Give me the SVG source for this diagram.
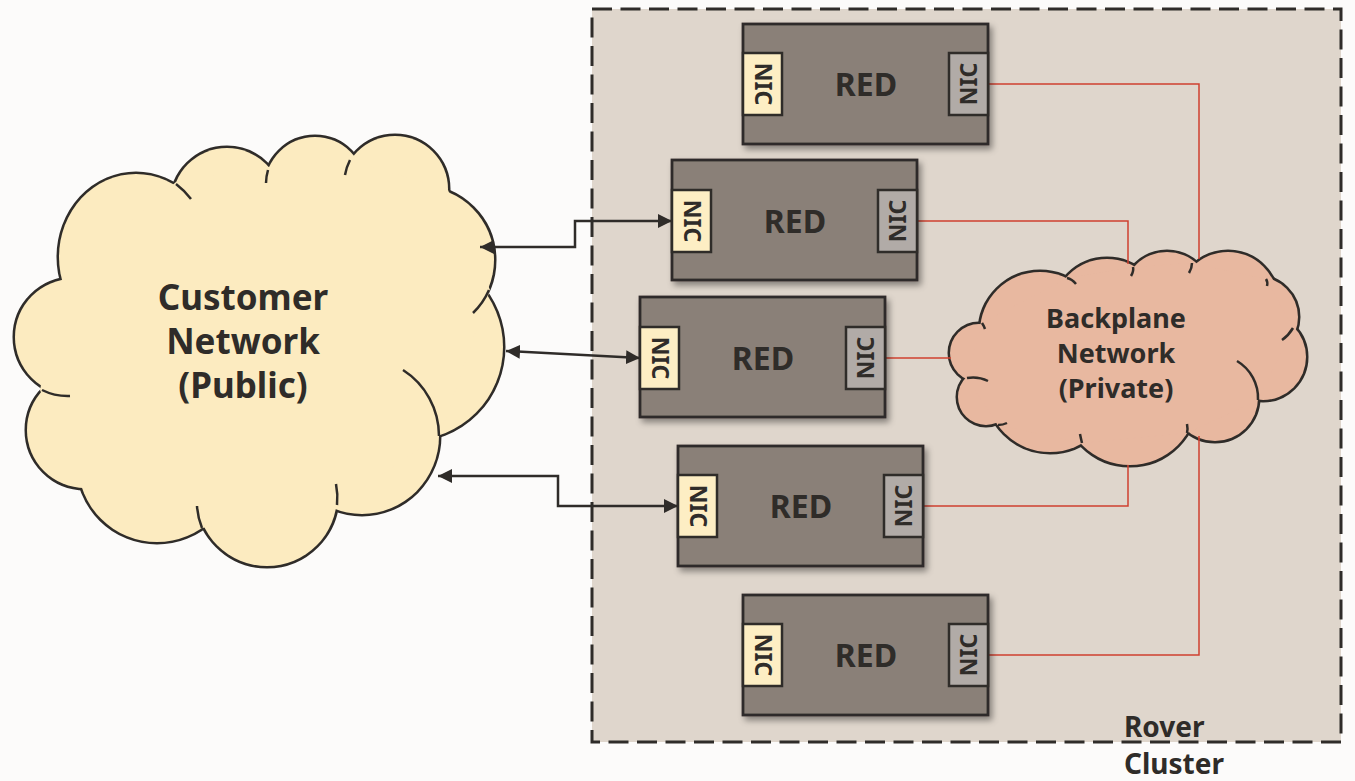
<svg xmlns="http://www.w3.org/2000/svg" xmlns:xlink="http://www.w3.org/1999/xlink" width="1355" height="781" viewBox="0 0 1355 781">
  <style>
    .lbl { font-family: "Noto Sans", "Open Sans", "Liberation Sans", sans-serif; font-weight: bold; fill: #2f2c29; }
    .red { fill: #8a8078; stroke: #2f2c29; stroke-width: 2.8; }
    .nicL { fill: #fdeec4; stroke: #2f2c29; stroke-width: 2.5; }
    .nicR { fill: #b1aba7; stroke: #2f2c29; stroke-width: 2.5; }
    .nic { font-size: 23px; }
    .redtxt { font-size: 32px; }
    .tail { fill: none; stroke: #2f2c29; stroke-width: 2.5; }
    .arrow { fill: none; stroke: #2f2c29; stroke-width: 2.5; }
    .wire { fill: none; stroke: #d0402f; stroke-width: 1.5; }
  </style>
  <defs>
    <filter id="shadow" x="-10%" y="-10%" width="125%" height="130%">
      <feDropShadow dx="3" dy="4" stdDeviation="3" flood-color="#000" flood-opacity="0.4"/>
    </filter>
    <marker id="ah" viewBox="0 0 14 14" refX="14" refY="7" markerWidth="14" markerHeight="14" markerUnits="userSpaceOnUse" orient="auto-start-reverse">
      <path d="M0,0 L14,7 L0,14 z" fill="#2f2c29"/>
    </marker>
    <g id="custShapes">
      <circle cx="73" cy="337" r="58"/>
      <ellipse cx="136" cy="257" rx="77" ry="83"/>
      <circle cx="227" cy="203" r="55"/>
      <circle cx="315" cy="187" r="50"/>
      <circle cx="395" cy="189" r="53"/>
      <circle cx="421" cy="260" r="73"/>
      <circle cx="410" cy="347" r="93"/>
      <ellipse cx="362" cy="436" rx="77" ry="78"/>
      <circle cx="267" cy="496" r="70"/>
      <circle cx="157" cy="463" r="79"/>
      <circle cx="85" cy="430" r="58"/>
    </g>
    <g id="backShapes">
      <circle cx="1040" cy="332" r="60"/>
      <circle cx="1107" cy="313" r="54"/>
      <circle cx="1167" cy="296" r="44"/>
      <circle cx="1228" cy="302" r="50"/>
      <circle cx="1258" cy="317" r="40"/>
      <circle cx="1263" cy="357" r="43"/>
      <circle cx="1215" cy="398" r="43"/>
      <circle cx="1130" cy="398" r="67"/>
      <circle cx="1050" cy="388" r="64"/>
      <circle cx="986" cy="397" r="28"/>
      <circle cx="979" cy="353" r="29"/>
    </g>
  </defs>

  <rect x="0" y="0" width="1355" height="781" fill="#fcfbfa"/>

  <!-- Rover cluster container -->
  <g id="rover-cluster">
    <rect x="592" y="9" width="749" height="733" fill="#dfd6cc" stroke="#2f2c29" stroke-width="3" stroke-dasharray="20 8.5"/>
    <text class="lbl" x="1124" y="737" font-size="28">Rover</text>
    <text class="lbl" x="1124" y="774" font-size="28">Cluster</text>
  </g>

  <!-- Customer network cloud -->
  <g id="customer-network">
    <use xlink:href="#custShapes" href="#custShapes" fill="none" stroke="#2f2c29" stroke-width="5"/>
    <use xlink:href="#custShapes" href="#custShapes" fill="#fcebc0" stroke="none"/>
    <polygon points="62,281 176,182 268,167 350,160 448,190 490,290 440,435 337,505 202,528 82,488 40,390" fill="#fcebc0"/>
    <path class="tail" d="M42,390 A58 58 0 0 0 70,396"/>
    <path class="tail" d="M176,184 A77 83 0 0 1 191,199"/>
    <path class="tail" d="M268,170 A50 50 0 0 0 266,183"/>
    <path class="tail" d="M350,160 A53 53 0 0 0 345,175"/>
    <path class="tail" d="M489,290 A73 73 0 0 1 473,313"/>
    <path class="tail" d="M439,436 A77 78 0 0 0 403,370"/>
    <path class="tail" d="M337,505 A70 70 0 0 0 336,484"/>
    <path class="tail" d="M202,528 A70 70 0 0 1 197,506"/>
    <text class="lbl" x="243" y="310" font-size="35" text-anchor="middle">Customer</text>
    <text class="lbl" x="243" y="354" font-size="35" text-anchor="middle">Network</text>
    <text class="lbl" x="243" y="398" font-size="35" text-anchor="middle">(Public)</text>
  </g>

  <!-- Backplane network cloud -->
  <g id="backplane-network">
    <use xlink:href="#backShapes" href="#backShapes" fill="none" stroke="#2f2c29" stroke-width="5"/>
    <use xlink:href="#backShapes" href="#backShapes" fill="#e8b8a0" stroke="none"/>
    <polygon points="982,323 1067,278 1133,267 1192,263 1266,279 1293,328 1258,400 1187,433 1082,443 998,425 967,378" fill="#e8b8a0"/>
    <path class="tail" d="M1067,278 Q1072,279 1076,284"/>
    <path class="tail" d="M1133,267 Q1134,271 1131,276"/>
    <path class="tail" d="M1192,263 Q1192,268 1189,273"/>
    <path class="tail" d="M1266,279 Q1268,282 1267,286"/>
    <path class="tail" d="M1293,328 A38 38 0 0 1 1282,340"/>
    <path class="tail" d="M1258,400 A43 43 0 0 0 1237,361"/>
    <path class="tail" d="M1187,433 Q1188,429 1187,424"/>
    <path class="tail" d="M1082,443 Q1081,439 1080,434"/>
    <path class="tail" d="M998,425 Q1003,425 1007,423"/>
    <path class="tail" d="M967,378 Q978,376 988,381"/>
    <path class="tail" d="M982,323 Q984,326 985,329"/>
    <text class="lbl" x="1116" y="328" font-size="27" text-anchor="middle">Backplane</text>
    <text class="lbl" x="1116" y="363" font-size="27" text-anchor="middle">Network</text>
    <text class="lbl" x="1116" y="398" font-size="27" text-anchor="middle">(Private)</text>
  </g>

  <!-- Connectors -->
  <g id="connectors">
    <path class="wire" d="M988,84 H1199 V259"/>
    <path class="wire" d="M917,221 H1128 V264"/>
    <path class="wire" d="M885,358 H951"/>
    <path class="wire" d="M923,506 H1128 V465"/>
    <path class="wire" d="M988,655 H1199 V436"/>
    <path class="arrow" d="M480,247 H575 V221 H672" marker-start="url(#ah)" marker-end="url(#ah)"/>
    <path class="arrow" d="M506,351 L640,358" marker-start="url(#ah)" marker-end="url(#ah)"/>
    <path class="arrow" d="M438,476 H558 V506 H678" marker-start="url(#ah)" marker-end="url(#ah)"/>
  </g>

  <!-- RED nodes -->
  <g id="red-1">
    <rect class="red" x="743" y="24" width="245" height="120" filter="url(#shadow)"/>
    <rect class="nicL" x="743" y="53" width="39" height="62"/>
    <rect class="nicR" x="949" y="53" width="39" height="62"/>
    <text class="lbl redtxt" x="866" y="96" text-anchor="middle">RED</text>
    <text class="lbl nic" transform="translate(762.5,84) rotate(90)" text-anchor="middle" dy="8">NIC</text>
    <text class="lbl nic" transform="translate(968.5,84) rotate(-90)" text-anchor="middle" dy="8">NIC</text>
  </g>
  <g id="red-2">
    <rect class="red" x="672" y="160" width="245" height="120" filter="url(#shadow)"/>
    <rect class="nicL" x="672" y="190" width="39" height="62"/>
    <rect class="nicR" x="878" y="190" width="39" height="62"/>
    <text class="lbl redtxt" x="795" y="233" text-anchor="middle">RED</text>
    <text class="lbl nic" transform="translate(691.5,221) rotate(90)" text-anchor="middle" dy="8">NIC</text>
    <text class="lbl nic" transform="translate(897.5,221) rotate(-90)" text-anchor="middle" dy="8">NIC</text>
  </g>
  <g id="red-3">
    <rect class="red" x="640" y="297" width="245" height="120" filter="url(#shadow)"/>
    <rect class="nicL" x="640" y="327" width="39" height="62"/>
    <rect class="nicR" x="846" y="327" width="39" height="62"/>
    <text class="lbl redtxt" x="763" y="370" text-anchor="middle">RED</text>
    <text class="lbl nic" transform="translate(659.5,358) rotate(90)" text-anchor="middle" dy="8">NIC</text>
    <text class="lbl nic" transform="translate(865.5,358) rotate(-90)" text-anchor="middle" dy="8">NIC</text>
  </g>
  <g id="red-4">
    <rect class="red" x="678" y="446" width="245" height="120" filter="url(#shadow)"/>
    <rect class="nicL" x="678" y="475" width="39" height="62"/>
    <rect class="nicR" x="884" y="475" width="39" height="62"/>
    <text class="lbl redtxt" x="801" y="518" text-anchor="middle">RED</text>
    <text class="lbl nic" transform="translate(697.5,506) rotate(90)" text-anchor="middle" dy="8">NIC</text>
    <text class="lbl nic" transform="translate(903.5,506) rotate(-90)" text-anchor="middle" dy="8">NIC</text>
  </g>
  <g id="red-5">
    <rect class="red" x="743" y="595" width="245" height="120" filter="url(#shadow)"/>
    <rect class="nicL" x="743" y="624" width="39" height="62"/>
    <rect class="nicR" x="949" y="624" width="39" height="62"/>
    <text class="lbl redtxt" x="866" y="667" text-anchor="middle">RED</text>
    <text class="lbl nic" transform="translate(762.5,655) rotate(90)" text-anchor="middle" dy="8">NIC</text>
    <text class="lbl nic" transform="translate(968.5,655) rotate(-90)" text-anchor="middle" dy="8">NIC</text>
  </g>
</svg>
